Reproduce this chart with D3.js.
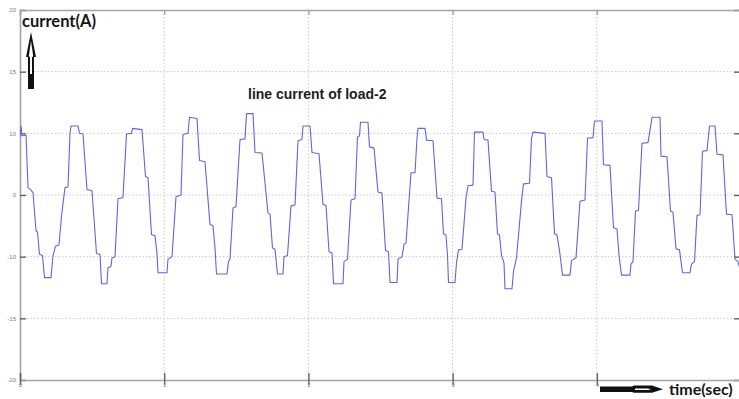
<!DOCTYPE html>
<html>
<head>
<meta charset="utf-8">
<script src="https://cdn.jsdelivr.net/npm/d3@7"></script>
<style>
  body { margin: 0; background: #fff; }
  svg { display: block; }
</style>
</head>
<body>
<svg id="chart" width="739" height="399"></svg>
<script>
// Axis ticks and their printed labels
const yTicks = [-20, -15, -10, 0, 10, 15, 20];
const yTickLabels = ["-20", "-15", "-10", "0", "10", "15", "20"];
const xTicks = [0, 1, 2, 3, 4];
const xTickLabels = ["0", "1", "2", "3", "4"];
const xDomain = [0, 5];

// Sampled line current of load-2: vertex times and current values (A)
const time = [
  0, 0.0069, 0.0139, 0.0416, 0.0555, 0.0763, 0.0902, 0.1110, 0.1214, 0.1352,
  0.1560, 0.1699, 0.2150, 0.2288, 0.2462, 0.2705, 0.2878, 0.3121, 0.3329, 0.3467,
  0.3537, 0.4022, 0.4126, 0.4369, 0.4646, 0.4993, 0.5305, 0.5548, 0.5652, 0.6033,
  0.6103, 0.6311, 0.6380, 0.6588, 0.6796, 0.7143, 0.7386, 0.7732, 0.7802, 0.8460,
  0.8703, 0.8877, 0.9119, 0.9362, 0.9501, 0.9570, 1.0194, 1.0263, 1.0541, 1.0818,
  1.1165, 1.1304, 1.1650, 1.1755, 1.2275, 1.2448, 1.2829, 1.3176, 1.3384, 1.3523,
  1.3627, 1.4355, 1.4459, 1.4563, 1.4771, 1.4979, 1.5257, 1.5603, 1.5707, 1.6158,
  1.6297, 1.6782, 1.7198, 1.7337, 1.7510, 1.7684, 1.7857, 1.8239, 1.8308, 1.8551,
  1.8793, 1.9071, 1.9279, 1.9556, 1.9626, 2.0111, 2.0250, 2.0735, 2.1012, 2.1220,
  2.1429, 2.1637, 2.1741, 2.2399, 2.2469, 2.2712, 2.2954, 2.3232, 2.3405, 2.3544,
  2.3613, 2.4133, 2.4237, 2.4549, 2.4827, 2.5104, 2.5347, 2.5555, 2.5659, 2.6144,
  2.6214, 2.6491, 2.6630, 2.6768, 2.7115, 2.7393, 2.7531, 2.7601, 2.8086, 2.8190,
  2.8641, 2.8918, 2.9230, 2.9369, 2.9542, 2.9646, 2.9716, 3.0166, 3.0270, 3.0409,
  3.0652, 3.0929, 3.1068, 3.1415, 3.1519, 3.2108, 3.2178, 3.2455, 3.2698, 3.2940,
  3.3114, 3.3253, 3.3391, 3.3564, 3.3634, 3.4119, 3.4223, 3.4431, 3.4778, 3.4917,
  3.5333, 3.5472, 3.5576, 3.6408, 3.6546, 3.6859, 3.7067, 3.7240, 3.7448, 3.7621,
  3.8141, 3.8245, 3.8558, 3.8835, 3.9182, 3.9355, 3.9736, 3.9840, 4.0360, 4.0464,
  4.0915, 4.1158, 4.1401, 4.1539, 4.1713, 4.2302, 4.2372, 4.2510, 4.2684, 4.2892,
  4.3135, 4.3551, 4.3828, 4.4383, 4.4452, 4.4868, 4.5111, 4.5284, 4.5492, 4.5735,
  4.5943, 4.6463, 4.6567, 4.6775, 4.6949, 4.7157, 4.7330, 4.7642, 4.7815, 4.8197,
  4.8336, 4.8752, 4.8994, 4.9376, 4.9584, 4.9792, 4.9931
];
const current = [
  9.4, 10.6, 9.6, 9.7, 1.2, 0.8, 0.4, -5.8, -6.0, -9.6,
  -9.8, -11.7, -11.7, -9.9, -8.3, -8.1, -3.4, 1.2, 1.3, 10.0,
  10.6, 10.6, 10.0, 9.9, 0.9, 0.7, -9.5, -9.6, -12.2, -12.2,
  -10.9, -10.8, -10.1, -10.0, -0.6, -0.4, 9.9, 10.0, 10.4, 10.3,
  3.0, 2.8, -6.4, -6.6, -9.5, -11.3, -11.3, -10.2, -10.0, -0.3,
  0.0, 9.8, 10.0, 11.3, 11.2, 5.6, 5.4, -4.8, -5.0, -8.6,
  -11.4, -11.4, -10.4, -10.2, -2.1, -1.9, 9.0, 9.1, 11.6, 11.6,
  6.9, 6.8, -2.9, -3.1, -8.6, -8.8, -11.4, -11.4, -10.0, -9.8,
  -1.8, -1.6, 8.8, 9.0, 10.6, 10.6, 6.9, 6.7, -1.5, -1.7,
  -9.2, -9.4, -12.2, -12.2, -10.4, -10.2, -0.8, -0.6, 9.4, 9.6,
  10.9, 10.9, 7.8, 7.6, 0.5, 0.3, -9.0, -9.2, -12.1, -12.1,
  -10.2, -10.0, -8.0, -7.8, 3.6, 3.6, 9.2, 10.4, 10.4, 8.9,
  8.8, -0.5, -0.6, -6.3, -6.5, -9.8, -12.1, -12.1, -10.5, -8.9,
  -8.8, -0.5, 1.5, 1.6, 10.1, 10.1, 9.0, 8.9, 0.6, 0.5,
  -6.3, -6.5, -9.8, -10.5, -12.6, -12.6, -11.2, -10.1, -1.0, 1.8,
  1.9, 9.2, 10.1, 10.0, 3.0, 2.8, -6.3, -6.5, -9.6, -11.5,
  -11.5, -10.3, -10.1, -1.0, -0.8, 9.2, 9.3, 11.0, 11.0, 4.9,
  4.8, -5.3, -5.5, -9.8, -11.5, -11.5, -10.6, -10.4, -2.6, -2.5,
  8.4, 8.5, 11.3, 11.3, 6.3, 6.2, -2.6, -2.8, -8.7, -8.9,
  -11.3, -11.3, -10.6, -10.4, -3.3, -3.2, 7.1, 7.2, 10.6, 10.6,
  6.6, 6.5, -3.1, -3.2, -10.2, -10.4, -11.0
];

const svg = d3.select("#chart");
const W = 739, H = 399;
const plot = { left: 20, right: 741, top: 10, bottom: 380 };

svg.append("rect").attr("width", W).attr("height", H).attr("fill", "#fff");

const x = d3.scaleLinear().domain(xDomain).range([plot.left, plot.right]);
// Tick rows are evenly spaced, so the y scale is piecewise linear between them
const yRange = yTicks.map((d, i) => plot.bottom - i * (plot.bottom - plot.top) / (yTicks.length - 1));
const y = d3.scaleLinear().domain(yTicks).range(yRange);

// Dotted grid
const gridY = yTicks.slice(1, -1);
const gridX = xTicks.slice(1);
svg.append("g")
  .selectAll("line").data(gridY).join("line")
  .attr("x1", plot.left).attr("x2", W)
  .attr("y1", d => y(d)).attr("y2", d => y(d))
  .attr("stroke", "#c8c8c8").attr("stroke-width", 1).attr("stroke-dasharray", "1.5,2");
svg.append("g")
  .selectAll("line").data(gridX).join("line")
  .attr("y1", plot.top).attr("y2", plot.bottom)
  .attr("x1", d => x(d)).attr("x2", d => x(d))
  .attr("stroke", "#c8c8c8").attr("stroke-width", 1).attr("stroke-dasharray", "1.5,2");

// Axes
function styleAxis(g) {
  g.select(".domain").attr("stroke", "#a4a4a4").attr("stroke-width", 1.6);
  g.selectAll(".tick line").attr("stroke", "#5a5a5a").attr("stroke-width", 1.3);
  g.selectAll(".tick text").attr("fill", "#7a7a7a")
    .attr("font-family", "Liberation Sans, Arial, sans-serif").attr("font-size", 6);
}

const yAxis = d3.axisLeft(y).tickValues(yTicks)
  .tickFormat((d, i) => yTickLabels[i]).tickSize(-6).tickPadding(4);
svg.append("g").attr("transform", `translate(${plot.left},0)`).call(yAxis).call(styleAxis);

const yAxisRight = d3.axisRight(y).tickValues(yTicks).tickFormat("").tickSize(-7);
svg.append("g").attr("transform", `translate(${plot.right},0)`).call(yAxisRight).call(styleAxis);

const xAxis = d3.axisBottom(x).tickValues(xTicks)
  .tickFormat((d, i) => xTickLabels[i]).tickSize(-7).tickPadding(3);
const gx = svg.append("g").attr("transform", `translate(0,${plot.bottom})`).call(xAxis).call(styleAxis);
gx.selectAll(".tick line").attr("y1", 5);
gx.selectAll(".tick text").attr("dy", "0.9em").attr("y", 2);

const xAxisTop = d3.axisTop(x).tickValues(xTicks).tickFormat("").tickSize(-5);
svg.append("g").attr("transform", `translate(0,${plot.top})`).call(xAxisTop).call(styleAxis)
  .selectAll(".tick line").attr("stroke", "#a0a0a0");

// Waveform
const series = time.map((t, i) => ({ t, v: current[i] }));
svg.append("clipPath").attr("id", "plotClip")
  .append("rect").attr("x", plot.left).attr("y", plot.top)
  .attr("width", plot.right - plot.left).attr("height", plot.bottom - plot.top);
svg.append("path")
  .datum(series)
  .attr("clip-path", "url(#plotClip)")
  .attr("fill", "none")
  .attr("stroke", "#6265dc")
  .attr("stroke-width", 1.1)
  .attr("stroke-linejoin", "round")
  .attr("d", d3.line().x(d => x(d.t)).y(d => y(d.v)));

// Annotations
const labelFont = "Lato, 'Open Sans', sans-serif";
svg.append("text").attr("x", 22).attr("y", 26.5)
  .attr("font-family", labelFont).attr("font-weight", 700).attr("font-size", 16.5)
  .attr("fill", "#161616").text("current(A)");

svg.append("text").attr("x", 248).attr("y", 99)
  .attr("font-family", "Liberation Sans, Arial, sans-serif").attr("font-weight", 700)
  .attr("font-size", 14).attr("fill", "#1e1e1e").text("line current of load-2");

svg.append("text").attr("x", 669).attr("y", 394.5)
  .attr("font-family", labelFont).attr("font-weight", 700).attr("font-size", 16)
  .attr("fill", "#161616").text("time(sec)");

// Upward arrow beside the y-axis title
svg.append("path")
  .attr("d", "M31,32 L36,57 L34,57 L34,89 L28,89 L28,57 L26,57 Z")
  .attr("fill", "#111");
svg.append("path")
  .attr("d", "M31,41 L33.2,56 L32,57.5 L32,74 L30,74 L30,57.5 L28.8,56 Z")
  .attr("fill", "#fff");

// Rightward arrow beside the x-axis title
svg.append("path")
  .attr("d", "M600,386.4 L632,386.4 L634,385.6 L652,385.6 L663,389.2 L652,392.8 L634,392.8 L632,392 L600,392 Z")
  .attr("fill", "#111");
svg.append("path")
  .attr("d", "M635,388.4 L648,388.4 L651,389.2 L648,390 L635,390 Z")
  .attr("fill", "#fff");
</script>
</body>
</html>
